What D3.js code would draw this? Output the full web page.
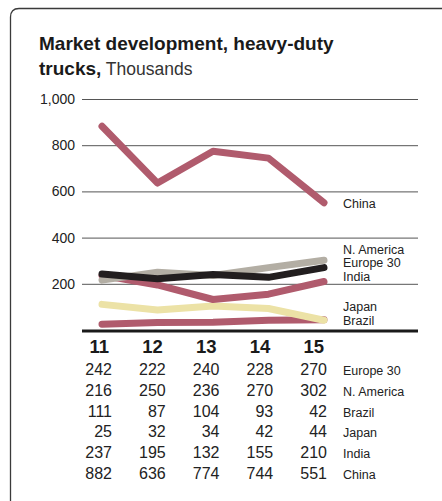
<!DOCTYPE html>
<html><head><meta charset="utf-8">
<script src="https://cdn.jsdelivr.net/npm/d3@7"></script>
<style>
html,body{margin:0;padding:0;background:#fff;}
svg{display:block;font-family:"Liberation Sans",Arial,sans-serif;}
</style></head>
<body>
<svg id="chart" width="442" height="501"></svg>
<script>
// ---- data ----
const years = ["11","12","13","14","15"];
const yTicks = [200,400,600,800,1000];
const europe30 = [242,222,240,228,270];
const nAmerica = [216,250,236,270,302];
const brazilRow = [111,87,104,93,42];
const japanRow = [25,32,34,42,44];
const india = [237,195,132,155,210];
const china = [882,636,774,744,551];
const tableRows = [
  {name:"Europe 30", values:europe30},
  {name:"N. America", values:nAmerica},
  {name:"Brazil", values:brazilRow},
  {name:"Japan", values:japanRow},
  {name:"India", values:india},
  {name:"China", values:china}
];
// lines in drawing order (back to front)
const lines = [
  {values:japanRow, color:"#b05b6d"},
  {values:brazilRow, color:"#ece2a6"},
  {values:india, color:"#b05b6d"},
  {values:nAmerica, color:"#b3aea4"},
  {values:europe30, color:"#221e1f"},
  {values:china, color:"#b05b6d"}
];
const endLabels = [
  {text:"China", y:208},
  {text:"N. America", y:254},
  {text:"Europe 30", y:267},
  {text:"India", y:281},
  {text:"Japan", y:311},
  {text:"Brazil", y:325}
];

const svg = d3.select("#chart");

// card border (top + left, rounded corner)
svg.append("path")
  .attr("d","M10.5,501 L10.5,17 Q10.5,8.5 19,8.5 L442,8.5")
  .attr("fill","none").attr("stroke","#3a3a3a").attr("stroke-width",1.3);

// title
const title = svg.append("text").attr("x",39).attr("y",50)
  .attr("font-size",19).attr("fill","#1a1a1a");
title.append("tspan").attr("font-weight","bold").text("Market development, heavy-duty");
const t2 = svg.append("text").attr("x",39).attr("y",75).attr("font-size",19).attr("fill","#1a1a1a");
t2.append("tspan").attr("font-weight","bold").text("trucks,");
t2.append("tspan").attr("font-weight","normal").attr("font-size",17.5).attr("fill","#333").text(" Thousands");

// scales
const x = d3.scalePoint().domain(years).range([102,324]);
const y = d3.scaleLinear().domain([0,1000]).range([330,99]);
const gridX0 = 82, gridX1 = 418;

// grid
const yAxis = d3.axisLeft(y).tickValues(yTicks).tickFormat(d3.format(",")).tickSize(-(gridX1-gridX0)).tickPadding(7);
const ga = svg.append("g").attr("transform",`translate(${gridX0},0)`).call(yAxis);
ga.select(".domain").remove();
ga.selectAll(".tick line").attr("stroke","#555").attr("stroke-width",1);
ga.selectAll(".tick text").attr("font-size",14).attr("fill","#222")
  .attr("font-family","Liberation Sans, Arial, sans-serif");

// lines
const lineGen = d3.line().x((d,i)=>x(years[i])).y(d=>y(d));
svg.append("g").selectAll("path").data(lines).join("path")
  .attr("d",d=>lineGen(d.values))
  .attr("fill","none").attr("stroke",d=>d.color)
  .attr("stroke-width",7).attr("stroke-linecap","round").attr("stroke-linejoin","round");

// baseline
svg.append("line").attr("x1",gridX0).attr("x2",gridX1).attr("y1",y(0)+1).attr("y2",y(0)+1)
  .attr("stroke","#1a1a1a").attr("stroke-width",3);

// end labels
svg.append("g").selectAll("text").data(endLabels).join("text")
  .attr("x",343).attr("y",d=>d.y).attr("font-size",12.5).attr("fill","#222").text(d=>d.text);

// table
const tx = d3.scalePoint().domain(years).range([112,327]);
svg.append("g").selectAll("text").data(years).join("text")
  .attr("x",d=>tx(d)-3).attr("y",353).attr("text-anchor","end")
  .attr("font-size",18.5).attr("font-weight","bold").attr("fill","#1a1a1a").text(d=>d);

const rowY = d3.scalePoint().domain(tableRows.map(r=>r.name)).range([375,479]);
const rows = svg.append("g").selectAll("g").data(tableRows).join("g")
  .attr("transform",d=>`translate(0,${rowY(d.name)})`);
rows.selectAll("text.v").data(d=>d.values).join("text").attr("class","v")
  .attr("x",(d,i)=>tx(years[i])).attr("y",0).attr("text-anchor","end")
  .attr("font-size",16).attr("fill","#222").text(d=>d);
rows.append("text").attr("x",343).attr("y",0).attr("font-size",12.5).attr("fill","#222").text(d=>d.name);
</script>
</body></html>
